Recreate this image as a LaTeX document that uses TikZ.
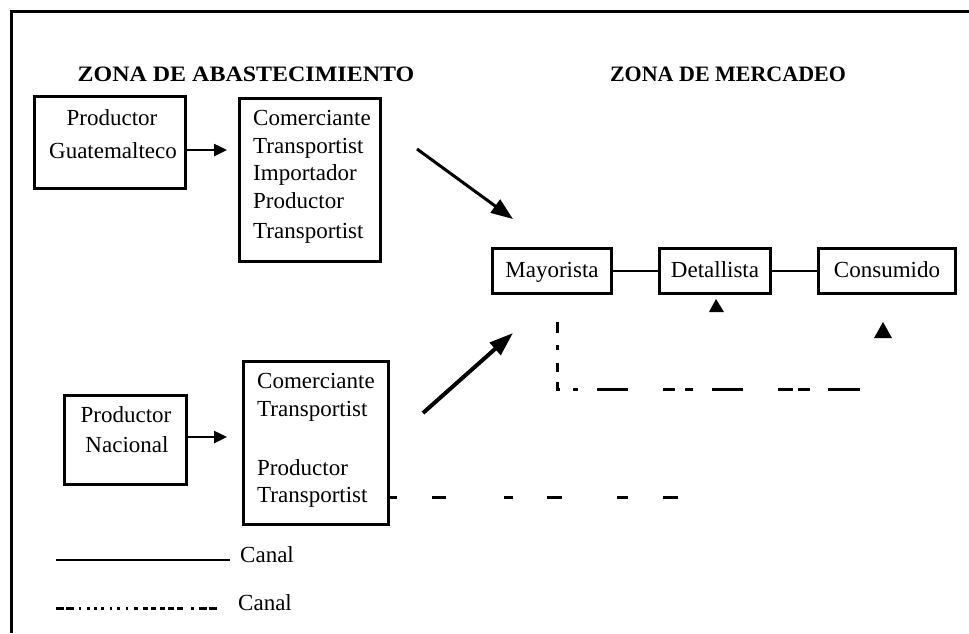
\documentclass[tikz,border=0pt]{standalone}
\usepackage{fontspec}
\setmainfont{Liberation Serif}
\usetikzlibrary{arrows.meta}
\tikzset{
  box/.style={draw, line width=3pt, inner sep=0pt, rectangle},
  mbox/.style={draw, line width=2.7pt, inner sep=0pt, minimum height=45pt,
    text height=17pt, text depth=5pt, font=\fontsize{23}{28}\selectfont},
  txt/.style={inner sep=0pt, anchor=base west, font=\fontsize{23}{28}\selectfont},
  ctxt/.style={inner sep=0pt, anchor=base, font=\fontsize{23}{28}\selectfont},
  ztitle/.style={inner sep=0pt, font=\fontsize{22}{26}\selectfont\bfseries},
  link/.style={line width=2pt},
  smallarrow/.style={line width=2.5pt, -{Triangle[length=13pt,width=12pt]}},
  bigarrow/.style={line width=3pt, -{Triangle[length=22pt,width=16pt]}},
  heavyarrow/.style={line width=4pt, -{Triangle[length=24pt,width=16pt]}},
  dashline/.style={line width=3pt},
  frame/.style={line width=3pt},
}
\begin{document}
\begin{tikzpicture}[x=1pt,y=-1pt]
\useasboundingbox (0,0) rectangle (969,633);
% frame
\draw[frame] (969,11) -- (11,11) -- (11,633);

% titles
\node[ztitle, xscale=1.09] (zab) at (246,74.5) {ZONA DE ABASTECIMIENTO};
\node[ztitle] (zme) at (728,74.5) {ZONA DE MERCADEO};

% supply boxes
\node[box, minimum width=151pt, minimum height=92pt] (box1) at (110,142.5) {};
\node[ctxt] (b1a) at (112,125) {Productor};
\node[ctxt] (b1b) at (113,158) {Guatemalteco};

\node[box, minimum width=141pt, minimum height=163pt] (box2) at (310,180) {};
\node[txt] (b2a) at (253,125) {Comerciante};
\node[txt] (b2b) at (253,153) {Transportist};
\node[txt] (b2c) at (253,180) {Importador};
\node[txt] (b2d) at (253,208) {Productor};
\node[txt] (b2e) at (253,238) {Transportist};

\node[box, minimum width=122pt, minimum height=89pt] (box3) at (125.5,440) {};
\node[ctxt] (b3a) at (126,422) {Productor};
\node[ctxt] (b3b) at (127,452) {Nacional};

\node[box, minimum width=145pt, minimum height=163pt] (box4) at (316,443) {};
\node[txt] (b4a) at (257,388) {Comerciante};
\node[txt] (b4b) at (257,416) {Transportist};
\node[txt] (b4c) at (257,475) {Productor};
\node[txt] (b4d) at (257,502) {Transportist};

% market boxes
\node[mbox, minimum width=119pt] (may) at (552,271) {Mayorista};
\node[mbox, minimum width=111pt] (det) at (715,271) {Detallista};
\node[mbox, minimum width=137pt] (con) at (887,271) {Consumido};
\draw[link] (may) -- (det);
\draw[link] (det) -- (con);

% arrows between boxes
\coordinate (a1tip) at (227,150);
\draw[smallarrow] (box1.east |- a1tip) -- (a1tip);
\coordinate (a3tip) at (227,437);
\draw[smallarrow] (box3.east |- a3tip) -- (a3tip);

\coordinate (a2s) at (417,149);
\coordinate (a2e) at (513,219);
\draw[bigarrow] (a2s) -- (a2e);
\coordinate (a4s) at (423,413);
\coordinate (a4e) at (513,333);
\draw[heavyarrow] (a4s) -- (a4e);

% loose arrow heads
\fill (709,312) -- (716,299) -- (724,312) -- cycle;
\fill (874,338) -- (883,322) -- (892,338) -- cycle;

% dashed L under Mayorista
\coordinate (dLs) at (557,322);
\coordinate (dLc) at (557,389);
\coordinate (dLe) at (860,389);
\draw[dashline, dash pattern=on 11pt off 12pt on 5pt off 13pt on 9pt off 10pt on 10pt off 13pt on 5pt off 19pt on 31pt off 35pt on 12pt off 10pt on 8pt off 19pt on 31pt off 35pt on 15pt off 5pt on 12pt off 18pt on 32pt off 20pt]
  (dLs) -- (dLc) -- (dLe);

% dashed line from lower box
\coordinate (d4e) at (678,497);
\draw[dashline, dash pattern=on 7pt off 35pt on 14pt off 58pt on 9pt off 34pt on 15pt off 55pt on 11pt off 35pt on 15pt off 20pt]
  (box4.east |- d4e) -- (d4e);

% legend
\coordinate (l1s) at (56,560);
\coordinate (l1e) at (230,560);
\draw[link] (l1s) -- (l1e);
\node[txt] (lg1) at (240,562) {Canal};
\coordinate (l2s) at (56,608);
\coordinate (l2e) at (217,608);
\draw[dashline, dash pattern=on 8pt off 2pt on 8pt off 5pt on 2pt off 6pt on 3pt off 4pt on 3pt off 4pt on 3pt off 6pt on 2pt off 5pt on 3pt off 6pt on 2pt off 6pt on 4pt off 5pt on 5pt off 3pt on 5pt off 4pt on 5pt off 3pt on 6pt off 3pt on 6pt off 8pt on 3pt off 5pt]
  (l2s) -- (l2e);
\node[txt] (lg2) at (238,610) {Canal};
\end{tikzpicture}
\end{document}
